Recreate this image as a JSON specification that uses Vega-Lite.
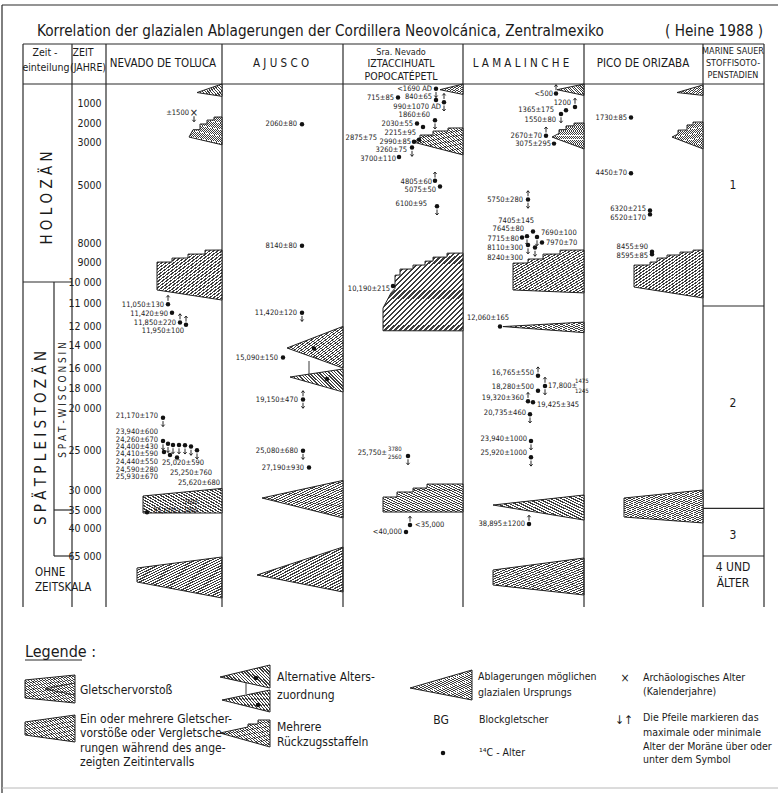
{
"$schema": "https://vega.github.io/schema/vega-lite/v6.json",
"width": 778, "height": 793, "autosize": {"type": "none"}, "padding": 0, "background": "white",
"config": {"view": {"stroke": null}, "font": "Liberation Sans Narrow, DejaVu Sans Condensed, Liberation Sans, sans-serif", "text": {"color": "#1a1a1a"}},
"datasets": {
"lrules": [
{"x":2,"x2":778,"y":5,"y2":5},{"x":2,"x2":2,"y":5,"y2":793},
{"x":23,"x2":764,"y":44,"y2":44},{"x":23,"x2":764,"y":84,"y2":84},
{"x":23,"x2":23,"y":44,"y2":607},{"x":72,"x2":72,"y":44,"y2":607},{"x":106,"x2":106,"y":44,"y2":607},{"x":222,"x2":222,"y":44,"y2":607},{"x":343,"x2":343,"y":44,"y2":607},{"x":463,"x2":463,"y":44,"y2":607},{"x":584,"x2":584,"y":44,"y2":607},{"x":703,"x2":703,"y":44,"y2":607},{"x":764,"x2":764,"y":44,"y2":607},
{"x":25,"x2":82,"y":660,"y2":660}
],
"lwedges": [
{"w":"n0","y":557,"x":222,"xr":222,"d":"s"},{"w":"n0","y":568,"x":137,"xr":222,"d":"s"},{"w":"n0","y":582,"x":137,"xr":222,"d":"s"},{"w":"n0","y":598,"x":222,"xr":222,"d":"s"},
{"w":"a0","y":547,"x":343,"xr":343,"d":"d"},{"w":"a0","y":575,"x":257,"xr":343,"d":"d"},{"w":"a0","y":592,"x":343,"xr":343,"d":"d"},
{"w":"m0","y":558,"x":584,"xr":584,"d":"s"},{"w":"m0","y":570,"x":493,"xr":584,"d":"s"},{"w":"m0","y":585,"x":493,"xr":584,"d":"s"},{"w":"m0","y":595,"x":584,"xr":584,"d":"s"},
{"w":"g1","y":675,"x":75,"xr":75,"d":"s"},{"w":"g1","y":680,"x":25,"xr":75,"d":"s"},{"w":"g1","y":698,"x":25,"xr":75,"d":"s"},{"w":"g1","y":703,"x":75,"xr":75,"d":"s"},
{"w":"g2","y":715,"x":75,"xr":75,"d":"s"},{"w":"g2","y":722,"x":25,"xr":75,"d":"s"},{"w":"g2","y":735,"x":25,"xr":75,"d":"s"},{"w":"g2","y":742,"x":75,"xr":75,"d":"s"},
{"w":"g3","y":665,"x":270,"xr":270,"d":"d"},{"w":"g3","y":677,"x":220,"xr":270,"d":"d"},{"w":"g3","y":688,"x":270,"xr":270,"d":"d"},
{"w":"g4","y":690,"x":270,"xr":270,"d":"d"},{"w":"g4","y":700,"x":222,"xr":270,"d":"d"},{"w":"g4","y":712,"x":270,"xr":270,"d":"d"},
{"w":"g5","y":720,"x":270,"xr":270,"d":"s"},{"w":"g5","y":720.01,"x":258,"xr":270,"d":"s"},{"w":"g5","y":724,"x":258,"xr":270,"d":"s"},{"w":"g5","y":724.01,"x":248,"xr":270,"d":"s"},{"w":"g5","y":727,"x":248,"xr":270,"d":"s"},{"w":"g5","y":733,"x":220,"xr":270,"d":"s"},{"w":"g5","y":747,"x":270,"xr":270,"d":"s"},
{"w":"g6","y":670,"x":472,"xr":472,"d":"d"},{"w":"g6","y":688,"x":410,"xr":472,"d":"d"},{"w":"g6","y":700,"x":472,"xr":472,"d":"d"}
],
"llines": [
{"id":"a","o":1,"x":75,"y":683},{"id":"a","o":2,"x":45,"y":689},{"id":"a","o":3,"x":75,"y":695},
{"id":"b","o":1,"x":246,"y":682},{"id":"b","o":2,"x":246,"y":694},
{"id":"c","o":1,"x":309,"y":361},{"id":"c","o":2,"x":309,"y":374}
],
"lpts": [{"x":443,"y":753},{"x":256,"y":678},{"x":258,"y":705}],
"ltext": [
{"k":"title","x":37,"y":36,"t":"Korrelation der glazialen Ablagerungen der Cordillera Neovolcánica, Zentralmexiko"},
{"k":"title","x":665,"y":36,"t":"( Heine 1988 )"},
{"k":"hm","x":45,"y":53,"t":"Zeit -"},{"k":"hm","x":46,"y":68,"t":"einteilung"},
{"k":"hm","x":83,"y":53,"t":"ZEIT"},{"k":"hm","x":88,"y":68,"t":"(JAHRE)"},
{"k":"head","x":163,"y":64,"t":"NEVADO DE TOLUCA"},
{"k":"head","x":281,"y":64,"t":"A J U S C O"},
{"k":"hs","x":401,"y":52,"t":"Sra. Nevado"},
{"k":"hm","x":401,"y":64,"t":"IZTACCIHUATL"},
{"k":"hm","x":401,"y":76.5,"t":"POPOCATÉPETL"},
{"k":"head","x":521,"y":64,"t":"L A M A L I N C H E"},
{"k":"head","x":643,"y":64,"t":"PICO  DE  ORIZABA"},
{"k":"hs","x":733,"y":51,"t":"MARINE SAUER"},{"k":"hs","x":733,"y":63,"t":"STOFFISOTO-"},{"k":"hs","x":733,"y":75,"t":"PENSTADIEN"},
{"k":"rot","x":47,"y":198,"t":"H  O  L  O  Z  Ä  N"},
{"k":"rot","x":41,"y":438,"t":"S P Ä T P L E I S T O Z Ä N"},
{"k":"rot2","x":63,"y":400,"t":"S P A T  -  W I S C O N S I N"},
{"k":"stage","x":733,"y":185,"t":"1"},{"k":"stage","x":733,"y":403,"t":"2"},{"k":"stage","x":733,"y":535,"t":"3"},
{"k":"stage","x":733,"y":567,"t":"4  UND"},{"k":"stage","x":733,"y":583,"t":"ÄLTER"},
{"k":"lt","x":35,"y":573,"t":"OHNE"},{"k":"lt","x":35,"y":588,"t":"ZEITSKALA"},
{"k":"bg","x":211,"y":133,"t":"BG"},{"k":"bg","x":210,"y":261,"t":"BG"},{"k":"bg","x":572,"y":139,"t":"BG"},
{"k":"legt","x":25,"y":652,"t":"Legende :"},
{"k":"leg","x":80,"y":690,"t":"Gletschervorstoß"},
{"k":"leg","x":80,"y":719,"t":"Ein oder mehrere Gletscher-"},
{"k":"leg","x":80,"y":733,"t":"vorstöße oder Vergletsche-"},
{"k":"leg","x":80,"y":748,"t":"rungen während des ange-"},
{"k":"leg","x":80,"y":762,"t":"zeigten Zeitintervalls"},
{"k":"leg","x":277,"y":677,"t":"Alternative  Alters-"},
{"k":"leg","x":277,"y":695,"t":"zuordnung"},
{"k":"leg","x":277,"y":727,"t":"Mehrere"},
{"k":"leg","x":277,"y":742,"t":"Rückzugsstaffeln"},
{"k":"leg2","x":478,"y":677,"t":"Ablagerungen möglichen"},
{"k":"leg2","x":478,"y":693,"t":"glazialen Ursprungs"},
{"k":"leg2","x":479,"y":720,"t":"Blockgletscher"},
{"k":"leg2","x":479,"y":753,"t":"¹⁴C - Alter"},
{"k":"leg2","x":643,"y":678,"t":"Archäologisches Alter"},
{"k":"leg2","x":643,"y":692,"t":"(Kalenderjahre)"},
{"k":"leg2","x":643,"y":718,"t":"Die Pfeile markieren das"},
{"k":"leg2","x":643,"y":733,"t":"maximale oder minimale"},
{"k":"leg2","x":643,"y":747,"t":"Alter der Moräne über oder"},
{"k":"leg2","x":643,"y":760,"t":"unter dem Symbol"},
{"k":"legc","x":441,"y":720,"t":"BG"},{"k":"legc","x":625,"y":678,"t":"×"},{"k":"legc","x":624,"y":720,"t":"↓↑"}
],
"wedges": [
{"w":"n1","age":0,"x":222,"xr":222,"d":"s"},{"w":"n1","age":450,"x":197,"xr":222,"d":"s"},{"w":"n1","age":650,"x":222,"xr":222,"d":"s"},
{"w":"n2","age":1700,"x":222,"xr":222,"d":"s"},{"w":"n2","age":1705,"x":214,"xr":222,"d":"s"},{"w":"n2","age":1850,"x":214,"xr":222,"d":"s"},{"w":"n2","age":1855,"x":207,"xr":222,"d":"s"},{"w":"n2","age":2050,"x":207,"xr":222,"d":"s"},{"w":"n2","age":2055,"x":200,"xr":222,"d":"s"},{"w":"n2","age":2350,"x":200,"xr":222,"d":"s"},{"w":"n2","age":2355,"x":193,"xr":222,"d":"s"},{"w":"n2","age":2740,"x":189,"xr":222,"d":"s"},{"w":"n2","age":3130,"x":222,"xr":222,"d":"s"},
{"w":"n3","age":8370,"x":222,"xr":222,"d":"s"},{"w":"n3","age":8375,"x":205,"xr":222,"d":"s"},{"w":"n3","age":8580,"x":205,"xr":222,"d":"s"},{"w":"n3","age":8585,"x":188,"xr":222,"d":"s"},{"w":"n3","age":8790,"x":188,"xr":222,"d":"s"},{"w":"n3","age":8795,"x":172,"xr":222,"d":"s"},{"w":"n3","age":9000,"x":172,"xr":222,"d":"s"},{"w":"n3","age":9005,"x":157,"xr":222,"d":"s"},{"w":"n3","age":10380,"x":157,"xr":222,"d":"s"},{"w":"n3","age":10860,"x":222,"xr":222,"d":"s"},
{"w":"n4","age":29800,"x":222,"xr":222,"d":"s"},{"w":"n4","age":31500,"x":143,"xr":222,"d":"s"},{"w":"n4","age":35830,"x":143,"xr":222,"d":"s"},{"w":"n4","age":35840,"x":222,"xr":222,"d":"s"},
{"w":"a1","age":12040,"x":343,"xr":343,"d":"d"},{"w":"a1","age":14260,"x":287,"xr":343,"d":"d"},{"w":"a1","age":16000,"x":343,"xr":343,"d":"d"},
{"w":"a2","age":16100,"x":343,"xr":343,"d":"d"},{"w":"a2","age":16900,"x":290,"xr":343,"d":"d"},{"w":"a2","age":18400,"x":343,"xr":343,"d":"d"},
{"w":"a3","age":28800,"x":343,"xr":343,"d":"d"},{"w":"a3","age":32000,"x":262,"xr":343,"d":"d"},{"w":"a3","age":37200,"x":343,"xr":343,"d":"d"},
{"w":"i1","age":0,"x":463,"xr":463,"d":"s"},{"w":"i1","age":300,"x":440,"xr":463,"d":"s"},{"w":"i1","age":550,"x":463,"xr":463,"d":"s"},
{"w":"i2","age":2260,"x":463,"xr":463,"d":"s"},{"w":"i2","age":2265,"x":448,"xr":463,"d":"s"},{"w":"i2","age":2420,"x":448,"xr":463,"d":"s"},{"w":"i2","age":2425,"x":433,"xr":463,"d":"s"},{"w":"i2","age":2630,"x":433,"xr":463,"d":"s"},{"w":"i2","age":2635,"x":420,"xr":463,"d":"s"},{"w":"i2","age":2790,"x":420,"xr":463,"d":"s"},{"w":"i2","age":3000,"x":413,"xr":463,"d":"s"},{"w":"i2","age":3600,"x":463,"xr":463,"d":"s"},
{"w":"i3","age":8530,"x":463,"xr":463,"d":"s"},{"w":"i3","age":8535,"x":447,"xr":463,"d":"s"},{"w":"i3","age":8740,"x":447,"xr":463,"d":"s"},{"w":"i3","age":8745,"x":433,"xr":463,"d":"s"},{"w":"i3","age":8950,"x":433,"xr":463,"d":"s"},{"w":"i3","age":8955,"x":425,"xr":463,"d":"s"},{"w":"i3","age":9150,"x":425,"xr":463,"d":"s"},{"w":"i3","age":9155,"x":413,"xr":463,"d":"s"},{"w":"i3","age":9350,"x":413,"xr":463,"d":"s"},{"w":"i3","age":9355,"x":400,"xr":463,"d":"s"},{"w":"i3","age":9650,"x":400,"xr":463,"d":"s"},{"w":"i3","age":9660,"x":395,"xr":463,"d":"s"},{"w":"i3","age":10300,"x":395,"xr":463,"d":"s"},{"w":"i3","age":10520,"x":391,"xr":463,"d":"s"},{"w":"i3","age":11220,"x":383,"xr":463,"d":"s"},{"w":"i3","age":12500,"x":383,"xr":463,"d":"s"},{"w":"i3","age":12510,"x":463,"xr":463,"d":"s"},
{"w":"i4","age":29250,"x":463,"xr":463,"d":"s"},{"w":"i4","age":29260,"x":427,"xr":463,"d":"s"},{"w":"i4","age":29750,"x":427,"xr":463,"d":"s"},{"w":"i4","age":29760,"x":413,"xr":463,"d":"s"},{"w":"i4","age":30500,"x":413,"xr":463,"d":"s"},{"w":"i4","age":30510,"x":397,"xr":463,"d":"s"},{"w":"i4","age":31750,"x":397,"xr":463,"d":"s"},{"w":"i4","age":31760,"x":383,"xr":463,"d":"s"},{"w":"i4","age":35560,"x":383,"xr":463,"d":"s"},{"w":"i4","age":35570,"x":463,"xr":463,"d":"s"},
{"w":"m1","age":0,"x":584,"xr":584,"d":"s"},{"w":"m1","age":300,"x":557,"xr":584,"d":"s"},{"w":"m1","age":600,"x":584,"xr":584,"d":"s"},
{"w":"m2","age":2000,"x":584,"xr":584,"d":"s"},{"w":"m2","age":2005,"x":574,"xr":584,"d":"s"},{"w":"m2","age":2150,"x":574,"xr":584,"d":"s"},{"w":"m2","age":2155,"x":566,"xr":584,"d":"s"},{"w":"m2","age":2350,"x":566,"xr":584,"d":"s"},{"w":"m2","age":2355,"x":559,"xr":584,"d":"s"},{"w":"m2","age":2550,"x":559,"xr":584,"d":"s"},{"w":"m2","age":2740,"x":552,"xr":584,"d":"s"},{"w":"m2","age":3320,"x":584,"xr":584,"d":"s"},
{"w":"m3","age":8370,"x":584,"xr":584,"d":"s"},{"w":"m3","age":8375,"x":560,"xr":584,"d":"s"},{"w":"m3","age":8580,"x":560,"xr":584,"d":"s"},{"w":"m3","age":8585,"x":543,"xr":584,"d":"s"},{"w":"m3","age":8840,"x":543,"xr":584,"d":"s"},{"w":"m3","age":8845,"x":528,"xr":584,"d":"s"},{"w":"m3","age":9050,"x":528,"xr":584,"d":"s"},{"w":"m3","age":9055,"x":513,"xr":584,"d":"s"},{"w":"m3","age":10380,"x":513,"xr":584,"d":"s"},{"w":"m3","age":10520,"x":584,"xr":584,"d":"s"},
{"w":"m4","age":11830,"x":584,"xr":584,"d":"s"},{"w":"m4","age":12060,"x":503,"xr":584,"d":"s"},{"w":"m4","age":12700,"x":584,"xr":584,"d":"s"},
{"w":"m5","age":31250,"x":584,"xr":584,"d":"s"},{"w":"m5","age":33750,"x":493,"xr":584,"d":"s"},{"w":"m5","age":37800,"x":584,"xr":584,"d":"s"},
{"w":"p1","age":50,"x":703,"xr":703,"d":"s"},{"w":"p1","age":450,"x":677,"xr":703,"d":"s"},{"w":"p1","age":600,"x":703,"xr":703,"d":"s"},
{"w":"p2","age":1950,"x":703,"xr":703,"d":"s"},{"w":"p2","age":1955,"x":693,"xr":703,"d":"s"},{"w":"p2","age":2100,"x":693,"xr":703,"d":"s"},{"w":"p2","age":2105,"x":687,"xr":703,"d":"s"},{"w":"p2","age":2370,"x":687,"xr":703,"d":"s"},{"w":"p2","age":2375,"x":678,"xr":703,"d":"s"},{"w":"p2","age":2580,"x":678,"xr":703,"d":"s"},{"w":"p2","age":2740,"x":672,"xr":703,"d":"s"},{"w":"p2","age":3320,"x":703,"xr":703,"d":"s"},
{"w":"p3","age":8370,"x":703,"xr":703,"d":"s"},{"w":"p3","age":8375,"x":693,"xr":703,"d":"s"},{"w":"p3","age":8475,"x":693,"xr":703,"d":"s"},{"w":"p3","age":8480,"x":680,"xr":703,"d":"s"},{"w":"p3","age":8630,"x":680,"xr":703,"d":"s"},{"w":"p3","age":8635,"x":667,"xr":703,"d":"s"},{"w":"p3","age":8790,"x":667,"xr":703,"d":"s"},{"w":"p3","age":8795,"x":657,"xr":703,"d":"s"},{"w":"p3","age":9000,"x":657,"xr":703,"d":"s"},{"w":"p3","age":9005,"x":650,"xr":703,"d":"s"},{"w":"p3","age":9150,"x":650,"xr":703,"d":"s"},{"w":"p3","age":9155,"x":634,"xr":703,"d":"s"},{"w":"p3","age":10240,"x":634,"xr":703,"d":"s"},{"w":"p3","age":10760,"x":703,"xr":703,"d":"s"},
{"w":"p4","age":30000,"x":703,"xr":703,"d":"s"},{"w":"p4","age":32000,"x":624,"xr":703,"d":"s"},{"w":"p4","age":36950,"x":624,"xr":703,"d":"s"},{"w":"p4","age":38600,"x":703,"xr":703,"d":"s"}
],
"arules": [
{"x":23,"x2":72,"age":10000,"age2":10000},{"x":54,"x2":54,"age":10000,"age2":65000},{"x":54,"x2":72,"age":35000,"age2":35000},{"x":54,"x2":72,"age":65000,"age2":65000},
{"x":703,"x2":764,"age":11130,"age2":11130},{"x":703,"x2":764,"age":34600,"age2":34600},{"x":703,"x2":764,"age":65000,"age2":65000}
],
"dots": [
{"x":194,"age":1500,"a":"d","s":"x"},
{"x":168,"age":11050,"a":"u"},{"x":172,"age":11420,"a":"n"},{"x":180,"age":11850,"a":"u"},{"x":186,"age":11950,"a":"u"},
{"x":163,"age":21170,"a":"d"},
{"x":163,"age":23940,"a":"d"},{"x":168,"age":24260,"a":"d"},{"x":173,"age":24400,"a":"d"},{"x":179,"age":24410,"a":"d"},{"x":185,"age":24440,"a":"d"},{"x":191,"age":24590,"a":"d"},{"x":197,"age":25020,"a":"d"},
{"x":164,"age":25250,"a":"n"},{"x":170,"age":25620,"a":"n"},{"x":177,"age":25930,"a":"n"},{"x":147,"age":35600,"a":"n"},
{"x":302,"age":2060,"a":"n"},{"x":302,"age":8140,"a":"n"},{"x":302,"age":11420,"a":"d"},{"x":283,"age":15090,"a":"n"},{"x":314,"age":14300,"a":"n"},{"x":327,"age":17100,"a":"n"},
{"x":303,"age":19150,"a":"b"},{"x":303,"age":25080,"a":"d"},{"x":309,"age":27190,"a":"n"},
{"x":436,"age":250,"a":"d"},{"x":398,"age":715,"a":"n"},{"x":436,"age":840,"a":"n"},{"x":444,"age":960,"a":"b"},{"x":435,"age":1860,"a":"d"},{"x":417,"age":2030,"a":"n"},{"x":423,"age":2215,"a":"n"},{"x":419,"age":2875,"a":"n"},{"x":414,"age":2990,"a":"n"},{"x":412,"age":3260,"a":"d"},{"x":399,"age":3700,"a":"n"},{"x":435,"age":4805,"a":"u"},{"x":440,"age":5075,"a":"n"},{"x":437,"age":6100,"a":"d"},{"x":393,"age":10190,"a":"n"},{"x":408,"age":25750,"a":"d"},{"x":410,"age":39170,"a":"u"},{"x":406,"age":43600,"a":"n"},
{"x":556,"age":500,"a":"u"},{"x":575,"age":1200,"a":"u"},{"x":566,"age":1365,"a":"n"},{"x":561,"age":1550,"a":"d"},{"x":546,"age":2670,"a":"u"},{"x":554,"age":3075,"a":"n"},{"x":528,"age":5750,"a":"b"},
{"x":533,"age":7405,"a":"n"},{"x":527,"age":7645,"a":"d"},{"x":537,"age":7690,"a":"d"},{"x":522,"age":7715,"a":"n"},{"x":542,"age":7970,"a":"n"},{"x":528,"age":8110,"a":"d"},{"x":535,"age":8240,"a":"d"},
{"x":500,"age":12060,"a":"n"},{"x":538,"age":16765,"a":"u"},{"x":545,"age":17800,"a":"b"},{"x":538,"age":18280,"a":"n"},{"x":528,"age":19320,"a":"u"},{"x":533,"age":19425,"a":"n"},{"x":530,"age":20735,"a":"d"},{"x":531,"age":23940,"a":"d"},{"x":531,"age":25920,"a":"d"},{"x":529,"age":38895,"a":"u"},
{"x":631,"age":1730,"a":"n"},{"x":631,"age":4450,"a":"n"},{"x":650,"age":6320,"a":"n"},{"x":650,"age":6520,"a":"n"},{"x":652,"age":8455,"a":"n"},{"x":652,"age":8595,"a":"n"}
],
"labels": [
{"t":"±1500","x":189,"age":1500,"side":"L"},
{"t":"11,050±130","x":164,"age":11100,"side":"L"},{"t":"11,420±90","x":168,"age":11480,"side":"L"},{"t":"11,850±220","x":176,"age":11860,"side":"L"},{"t":"11,950±100","x":184,"age":12500,"side":"L"},
{"t":"21,170±170","x":158,"age":20900,"side":"L"},
{"t":"23,940±600","x":158,"age":22860,"side":"L"},{"t":"24,260±670","x":158,"age":23750,"side":"L"},{"t":"24,400±430","x":158,"age":24640,"side":"L"},{"t":"24,410±590","x":158,"age":25560,"side":"L"},{"t":"24,440±550","x":158,"age":26500,"side":"L"},{"t":"24,590±280","x":158,"age":27440,"side":"L"},{"t":"25,930±670","x":158,"age":28375,"side":"L"},
{"t":"25,020±590","x":162,"age":26625,"side":"R"},{"t":"25,250±760","x":170,"age":27875,"side":"R"},{"t":"25,620±680","x":178,"age":29125,"side":"R"},
{"t":"35,600±","x":153,"age":35200,"side":"R"},{"t":"2600","x":184,"age":33000,"side":"F"},{"t":"1800","x":184,"age":35000,"side":"F"},
{"t":"2060±80","x":297,"age":2060,"side":"L"},{"t":"8140±80","x":297,"age":8140,"side":"L"},{"t":"11,420±120","x":297,"age":11420,"side":"L"},{"t":"15,090±150","x":278,"age":15090,"side":"L"},{"t":"19,150±470","x":298,"age":19150,"side":"L"},{"t":"25,080±680","x":298,"age":25080,"side":"L"},{"t":"27,190±930","x":304,"age":27190,"side":"L"},
{"t":"<1690 AD","x":432,"age":250,"side":"L"},{"t":"715±85","x":394,"age":715,"side":"L"},{"t":"840±65","x":432,"age":700,"side":"L"},{"t":"990±1070 AD","x":441,"age":1200,"side":"L"},{"t":"1860±60","x":430,"age":1600,"side":"L"},{"t":"2030±55","x":413,"age":2030,"side":"L"},{"t":"2215±95","x":416,"age":2500,"side":"L"},{"t":"2875±75","x":377,"age":2800,"side":"L"},{"t":"2990±85","x":411,"age":3000,"side":"L"},{"t":"3260±75","x":407,"age":3370,"side":"L"},{"t":"3700±110","x":396,"age":3790,"side":"L"},{"t":"4805±60","x":432,"age":4860,"side":"L"},{"t":"5075±50","x":436,"age":5260,"side":"L"},{"t":"6100±95","x":427,"age":5980,"side":"L"},{"t":"10,190±215","x":390,"age":10330,"side":"L"},
{"t":"25,750±","x":387,"age":25380,"side":"L"},{"t":"3780","x":388,"age":24900,"side":"F"},{"t":"2560","x":388,"age":25900,"side":"F"},
{"t":"<35,000","x":415,"age":39170,"side":"R"},{"t":"<40,000","x":402,"age":43600,"side":"L"},
{"t":"<500","x":553,"age":500,"side":"L"},{"t":"1200","x":571,"age":1000,"side":"L"},{"t":"1365±175","x":554,"age":1350,"side":"L"},{"t":"1550±80","x":556,"age":1850,"side":"L"},{"t":"2670±70","x":542,"age":2670,"side":"L"},{"t":"3075±295","x":551,"age":3075,"side":"L"},{"t":"5750±280","x":523,"age":5750,"side":"L"},
{"t":"7405±145","x":534,"age":6860,"side":"L"},{"t":"7645±80","x":524,"age":7275,"side":"L"},{"t":"7690±100","x":541,"age":7482,"side":"R"},{"t":"7715±80","x":519,"age":7792,"side":"L"},{"t":"7970±70","x":546,"age":8000,"side":"R"},{"t":"8110±300","x":523,"age":8260,"side":"L"},{"t":"8240±300","x":523,"age":8790,"side":"L"},
{"t":"12,060±165","x":467,"age":11650,"side":"R"},{"t":"16,765±550","x":534,"age":16500,"side":"L"},{"t":"18,280±500","x":534,"age":17900,"side":"L"},
{"t":"17,800±","x":548,"age":17800,"side":"R"},{"t":"1475","x":575,"age":17300,"side":"F"},{"t":"1245","x":575,"age":18300,"side":"F"},
{"t":"19,320±360","x":524,"age":19000,"side":"L"},{"t":"19,425±345","x":537,"age":19700,"side":"R"},{"t":"20,735±460","x":526,"age":20600,"side":"L"},{"t":"23,940±1000","x":527,"age":23700,"side":"L"},{"t":"25,920±1000","x":527,"age":25380,"side":"L"},{"t":"38,895±1200","x":525,"age":38895,"side":"L"},
{"t":"1730±85","x":627,"age":1730,"side":"L"},{"t":"4450±70","x":627,"age":4450,"side":"L"},{"t":"6320±215","x":646,"age":6250,"side":"L"},{"t":"6520±170","x":646,"age":6720,"side":"L"},{"t":"8455±90","x":648,"age":8200,"side":"L"},{"t":"8595±85","x":648,"age":8690,"side":"L"}
]
},
"layer": [
{
"encoding": {
"x": {"field": "x", "type": "quantitative", "scale": {"domain": [0, 778], "nice": false, "zero": false}, "axis": null},
"y": {"field": "y", "type": "quantitative", "scale": {"domain": [0, 793], "range": [0, 793], "nice": false, "zero": false}, "axis": null}
},
"layer": [
{"data": {"name": "lwedges"}, "mark": {"type": "area", "orient": "horizontal", "stroke": "#222", "strokeWidth": 1, "fill": {"gradient":"linear","x1":0,"y1":0,"x2":1,"y2":1,"stops":[
{"offset":0,"color":"#3c3c3c"},{"offset":0.014,"color":"#3c3c3c"},{"offset":0.014,"color":"#fff"},{"offset":0.03125,"color":"#fff"},
{"offset":0.03125,"color":"#3c3c3c"},{"offset":0.04525,"color":"#3c3c3c"},{"offset":0.04525,"color":"#fff"},{"offset":0.0625,"color":"#fff"},
{"offset":0.0625,"color":"#3c3c3c"},{"offset":0.0765,"color":"#3c3c3c"},{"offset":0.0765,"color":"#fff"},{"offset":0.09375,"color":"#fff"},
{"offset":0.09375,"color":"#3c3c3c"},{"offset":0.10775,"color":"#3c3c3c"},{"offset":0.10775,"color":"#fff"},{"offset":0.125,"color":"#fff"},
{"offset":0.125,"color":"#3c3c3c"},{"offset":0.139,"color":"#3c3c3c"},{"offset":0.139,"color":"#fff"},{"offset":0.15625,"color":"#fff"},
{"offset":0.15625,"color":"#3c3c3c"},{"offset":0.17025,"color":"#3c3c3c"},{"offset":0.17025,"color":"#fff"},{"offset":0.1875,"color":"#fff"},
{"offset":0.1875,"color":"#3c3c3c"},{"offset":0.2015,"color":"#3c3c3c"},{"offset":0.2015,"color":"#fff"},{"offset":0.21875,"color":"#fff"},
{"offset":0.21875,"color":"#3c3c3c"},{"offset":0.23275,"color":"#3c3c3c"},{"offset":0.23275,"color":"#fff"},{"offset":0.25,"color":"#fff"},
{"offset":0.25,"color":"#3c3c3c"},{"offset":0.264,"color":"#3c3c3c"},{"offset":0.264,"color":"#fff"},{"offset":0.28125,"color":"#fff"},
{"offset":0.28125,"color":"#3c3c3c"},{"offset":0.29525,"color":"#3c3c3c"},{"offset":0.29525,"color":"#fff"},{"offset":0.3125,"color":"#fff"},
{"offset":0.3125,"color":"#3c3c3c"},{"offset":0.3265,"color":"#3c3c3c"},{"offset":0.3265,"color":"#fff"},{"offset":0.34375,"color":"#fff"},
{"offset":0.34375,"color":"#3c3c3c"},{"offset":0.35775,"color":"#3c3c3c"},{"offset":0.35775,"color":"#fff"},{"offset":0.375,"color":"#fff"},
{"offset":0.375,"color":"#3c3c3c"},{"offset":0.389,"color":"#3c3c3c"},{"offset":0.389,"color":"#fff"},{"offset":0.40625,"color":"#fff"},
{"offset":0.40625,"color":"#3c3c3c"},{"offset":0.42025,"color":"#3c3c3c"},{"offset":0.42025,"color":"#fff"},{"offset":0.4375,"color":"#fff"},
{"offset":0.4375,"color":"#3c3c3c"},{"offset":0.4515,"color":"#3c3c3c"},{"offset":0.4515,"color":"#fff"},{"offset":0.46875,"color":"#fff"},
{"offset":0.46875,"color":"#3c3c3c"},{"offset":0.48275,"color":"#3c3c3c"},{"offset":0.48275,"color":"#fff"},{"offset":0.5,"color":"#fff"},
{"offset":0.5,"color":"#3c3c3c"},{"offset":0.514,"color":"#3c3c3c"},{"offset":0.514,"color":"#fff"},{"offset":0.53125,"color":"#fff"},
{"offset":0.53125,"color":"#3c3c3c"},{"offset":0.54525,"color":"#3c3c3c"},{"offset":0.54525,"color":"#fff"},{"offset":0.5625,"color":"#fff"},
{"offset":0.5625,"color":"#3c3c3c"},{"offset":0.5765,"color":"#3c3c3c"},{"offset":0.5765,"color":"#fff"},{"offset":0.59375,"color":"#fff"},
{"offset":0.59375,"color":"#3c3c3c"},{"offset":0.60775,"color":"#3c3c3c"},{"offset":0.60775,"color":"#fff"},{"offset":0.625,"color":"#fff"},
{"offset":0.625,"color":"#3c3c3c"},{"offset":0.639,"color":"#3c3c3c"},{"offset":0.639,"color":"#fff"},{"offset":0.65625,"color":"#fff"},
{"offset":0.65625,"color":"#3c3c3c"},{"offset":0.67025,"color":"#3c3c3c"},{"offset":0.67025,"color":"#fff"},{"offset":0.6875,"color":"#fff"},
{"offset":0.6875,"color":"#3c3c3c"},{"offset":0.7015,"color":"#3c3c3c"},{"offset":0.7015,"color":"#fff"},{"offset":0.71875,"color":"#fff"},
{"offset":0.71875,"color":"#3c3c3c"},{"offset":0.73275,"color":"#3c3c3c"},{"offset":0.73275,"color":"#fff"},{"offset":0.75,"color":"#fff"},
{"offset":0.75,"color":"#3c3c3c"},{"offset":0.764,"color":"#3c3c3c"},{"offset":0.764,"color":"#fff"},{"offset":0.78125,"color":"#fff"},
{"offset":0.78125,"color":"#3c3c3c"},{"offset":0.79525,"color":"#3c3c3c"},{"offset":0.79525,"color":"#fff"},{"offset":0.8125,"color":"#fff"},
{"offset":0.8125,"color":"#3c3c3c"},{"offset":0.8265,"color":"#3c3c3c"},{"offset":0.8265,"color":"#fff"},{"offset":0.84375,"color":"#fff"},
{"offset":0.84375,"color":"#3c3c3c"},{"offset":0.85775,"color":"#3c3c3c"},{"offset":0.85775,"color":"#fff"},{"offset":0.875,"color":"#fff"},
{"offset":0.875,"color":"#3c3c3c"},{"offset":0.889,"color":"#3c3c3c"},{"offset":0.889,"color":"#fff"},{"offset":0.90625,"color":"#fff"},
{"offset":0.90625,"color":"#3c3c3c"},{"offset":0.92025,"color":"#3c3c3c"},{"offset":0.92025,"color":"#fff"},{"offset":0.9375,"color":"#fff"},
{"offset":0.9375,"color":"#3c3c3c"},{"offset":0.9515,"color":"#3c3c3c"},{"offset":0.9515,"color":"#fff"},{"offset":0.96875,"color":"#fff"},
{"offset":0.96875,"color":"#3c3c3c"},{"offset":0.98275,"color":"#3c3c3c"},{"offset":0.98275,"color":"#fff"},{"offset":1,"color":"#fff"}
]}},
"encoding": {"x": {"field": "x", "type": "quantitative", "stack": null}, "x2": {"field": "xr"}, "detail": {"field": "w"},
"strokeDash": {"field": "d", "type": "nominal", "scale": {"domain": ["s", "d"], "range": [[1, 0], [4, 2.5]]}, "legend": null}}},
{"data": {"name": "lrules"}, "mark": {"type": "rule", "color": "#2a2a2a", "strokeWidth": 1.2}, "encoding": {"x2": {"field": "x2"}, "y2": {"field": "y2"}}},
{"data": {"values": [{"x": 2, "x2": 778, "y": 788, "y2": 788}]}, "mark": {"type": "rule", "color": "#b8b8b8", "strokeWidth": 1}, "encoding": {"x2": {"field": "x2"}, "y2": {"field": "y2"}}},
{"data": {"name": "llines"}, "mark": {"type": "line", "color": "#222", "strokeWidth": 0.9}, "encoding": {"detail": {"field": "id"}, "order": {"field": "o"}}},
{"data": {"name": "lpts"}, "mark": {"type": "point", "filled": true, "color": "#111", "size": 20, "opacity": 1}, "encoding": {}},
{"data": {"name": "ltext"}, "transform": [{"filter": "datum.k === 'title'"}], "mark": {"type": "text", "fontSize": 15.2, "align": "left", "baseline": "alphabetic"}, "encoding": {"text": {"field": "t"}}},
{"data": {"name": "ltext"}, "transform": [{"filter": "datum.k === 'head'"}], "mark": {"type": "text", "fontSize": 11.5, "align": "center", "baseline": "middle"}, "encoding": {"text": {"field": "t"}}},
{"data": {"name": "ltext"}, "transform": [{"filter": "datum.k === 'hm'"}], "mark": {"type": "text", "fontSize": 10.5, "align": "center", "baseline": "middle"}, "encoding": {"text": {"field": "t"}}},
{"data": {"name": "ltext"}, "transform": [{"filter": "datum.k === 'hs'"}], "mark": {"type": "text", "fontSize": 9, "align": "center", "baseline": "middle"}, "encoding": {"text": {"field": "t"}}},
{"data": {"name": "ltext"}, "transform": [{"filter": "datum.k === 'rot'"}], "mark": {"type": "text", "fontSize": 15, "angle": 270, "align": "center", "baseline": "middle"}, "encoding": {"text": {"field": "t"}}},
{"data": {"name": "ltext"}, "transform": [{"filter": "datum.k === 'rot2'"}], "mark": {"type": "text", "fontSize": 10, "angle": 270, "align": "center", "baseline": "middle"}, "encoding": {"text": {"field": "t"}}},
{"data": {"name": "ltext"}, "transform": [{"filter": "datum.k === 'stage'"}], "mark": {"type": "text", "fontSize": 12, "align": "center", "baseline": "middle"}, "encoding": {"text": {"field": "t"}}},
{"data": {"name": "ltext"}, "transform": [{"filter": "datum.k === 'lt'"}], "mark": {"type": "text", "fontSize": 11.5, "align": "left", "baseline": "middle"}, "encoding": {"text": {"field": "t"}}},
{"data": {"name": "ltext"}, "transform": [{"filter": "datum.k === 'bg'"}], "mark": {"type": "text", "fontSize": 10, "align": "center", "baseline": "middle", "fontStyle": "italic"}, "encoding": {"text": {"field": "t"}}},
{"data": {"name": "ltext"}, "transform": [{"filter": "datum.k === 'legt'"}], "mark": {"type": "text", "fontSize": 16, "align": "left", "baseline": "middle"}, "encoding": {"text": {"field": "t"}}},
{"data": {"name": "ltext"}, "transform": [{"filter": "datum.k === 'leg'"}], "mark": {"type": "text", "fontSize": 12, "align": "left", "baseline": "middle"}, "encoding": {"text": {"field": "t"}}},
{"data": {"name": "ltext"}, "transform": [{"filter": "datum.k === 'leg2'"}], "mark": {"type": "text", "fontSize": 10.5, "align": "left", "baseline": "middle"}, "encoding": {"text": {"field": "t"}}},
{"data": {"name": "ltext"}, "transform": [{"filter": "datum.k === 'legc'"}], "mark": {"type": "text", "fontSize": 12, "align": "center", "baseline": "middle"}, "encoding": {"text": {"field": "t"}}}
]
},
{
"encoding": {
"x": {"field": "x", "type": "quantitative", "scale": {"domain": [0, 778], "nice": false, "zero": false}, "axis": null},
"y": {"field": "age", "type": "quantitative",
"scale": {"domain": [0,1000,2000,3000,5000,8000,9000,10000,11000,12000,14000,16000,18000,20000,25000,30000,35000,40000,65000],
"range": [84,103,123,142,185,243,262,282,303,326,345,368,388,408,450,490,510,528,556], "nice": false, "zero": false},
"axis": {"orient": "left", "offset": -106, "values": [1000,2000,3000,5000,8000,9000,10000,11000,12000,14000,16000,18000,20000,25000,30000,35000,40000,65000],
"labelExpr": "datum.value >= 10000 ? floor(datum.value/1000) + ' 000' : '' + datum.value",
"domain": false, "ticks": false, "tickSize": 0, "grid": false, "labelPadding": 5, "labelFontSize": 10.5, "labelColor": "#1a1a1a", "labelOverlap": false, "labelFlush": false, "title": null}}
},
"layer": [
{"data": {"name": "wedges"}, "mark": {"type": "area", "orient": "horizontal", "stroke": "#222", "strokeWidth": 1, "fill": {"gradient":"linear","x1":0,"y1":0,"x2":1,"y2":1,"stops":[
{"offset":0,"color":"#3c3c3c"},{"offset":0.014,"color":"#3c3c3c"},{"offset":0.014,"color":"#fff"},{"offset":0.03125,"color":"#fff"},
{"offset":0.03125,"color":"#3c3c3c"},{"offset":0.04525,"color":"#3c3c3c"},{"offset":0.04525,"color":"#fff"},{"offset":0.0625,"color":"#fff"},
{"offset":0.0625,"color":"#3c3c3c"},{"offset":0.0765,"color":"#3c3c3c"},{"offset":0.0765,"color":"#fff"},{"offset":0.09375,"color":"#fff"},
{"offset":0.09375,"color":"#3c3c3c"},{"offset":0.10775,"color":"#3c3c3c"},{"offset":0.10775,"color":"#fff"},{"offset":0.125,"color":"#fff"},
{"offset":0.125,"color":"#3c3c3c"},{"offset":0.139,"color":"#3c3c3c"},{"offset":0.139,"color":"#fff"},{"offset":0.15625,"color":"#fff"},
{"offset":0.15625,"color":"#3c3c3c"},{"offset":0.17025,"color":"#3c3c3c"},{"offset":0.17025,"color":"#fff"},{"offset":0.1875,"color":"#fff"},
{"offset":0.1875,"color":"#3c3c3c"},{"offset":0.2015,"color":"#3c3c3c"},{"offset":0.2015,"color":"#fff"},{"offset":0.21875,"color":"#fff"},
{"offset":0.21875,"color":"#3c3c3c"},{"offset":0.23275,"color":"#3c3c3c"},{"offset":0.23275,"color":"#fff"},{"offset":0.25,"color":"#fff"},
{"offset":0.25,"color":"#3c3c3c"},{"offset":0.264,"color":"#3c3c3c"},{"offset":0.264,"color":"#fff"},{"offset":0.28125,"color":"#fff"},
{"offset":0.28125,"color":"#3c3c3c"},{"offset":0.29525,"color":"#3c3c3c"},{"offset":0.29525,"color":"#fff"},{"offset":0.3125,"color":"#fff"},
{"offset":0.3125,"color":"#3c3c3c"},{"offset":0.3265,"color":"#3c3c3c"},{"offset":0.3265,"color":"#fff"},{"offset":0.34375,"color":"#fff"},
{"offset":0.34375,"color":"#3c3c3c"},{"offset":0.35775,"color":"#3c3c3c"},{"offset":0.35775,"color":"#fff"},{"offset":0.375,"color":"#fff"},
{"offset":0.375,"color":"#3c3c3c"},{"offset":0.389,"color":"#3c3c3c"},{"offset":0.389,"color":"#fff"},{"offset":0.40625,"color":"#fff"},
{"offset":0.40625,"color":"#3c3c3c"},{"offset":0.42025,"color":"#3c3c3c"},{"offset":0.42025,"color":"#fff"},{"offset":0.4375,"color":"#fff"},
{"offset":0.4375,"color":"#3c3c3c"},{"offset":0.4515,"color":"#3c3c3c"},{"offset":0.4515,"color":"#fff"},{"offset":0.46875,"color":"#fff"},
{"offset":0.46875,"color":"#3c3c3c"},{"offset":0.48275,"color":"#3c3c3c"},{"offset":0.48275,"color":"#fff"},{"offset":0.5,"color":"#fff"},
{"offset":0.5,"color":"#3c3c3c"},{"offset":0.514,"color":"#3c3c3c"},{"offset":0.514,"color":"#fff"},{"offset":0.53125,"color":"#fff"},
{"offset":0.53125,"color":"#3c3c3c"},{"offset":0.54525,"color":"#3c3c3c"},{"offset":0.54525,"color":"#fff"},{"offset":0.5625,"color":"#fff"},
{"offset":0.5625,"color":"#3c3c3c"},{"offset":0.5765,"color":"#3c3c3c"},{"offset":0.5765,"color":"#fff"},{"offset":0.59375,"color":"#fff"},
{"offset":0.59375,"color":"#3c3c3c"},{"offset":0.60775,"color":"#3c3c3c"},{"offset":0.60775,"color":"#fff"},{"offset":0.625,"color":"#fff"},
{"offset":0.625,"color":"#3c3c3c"},{"offset":0.639,"color":"#3c3c3c"},{"offset":0.639,"color":"#fff"},{"offset":0.65625,"color":"#fff"},
{"offset":0.65625,"color":"#3c3c3c"},{"offset":0.67025,"color":"#3c3c3c"},{"offset":0.67025,"color":"#fff"},{"offset":0.6875,"color":"#fff"},
{"offset":0.6875,"color":"#3c3c3c"},{"offset":0.7015,"color":"#3c3c3c"},{"offset":0.7015,"color":"#fff"},{"offset":0.71875,"color":"#fff"},
{"offset":0.71875,"color":"#3c3c3c"},{"offset":0.73275,"color":"#3c3c3c"},{"offset":0.73275,"color":"#fff"},{"offset":0.75,"color":"#fff"},
{"offset":0.75,"color":"#3c3c3c"},{"offset":0.764,"color":"#3c3c3c"},{"offset":0.764,"color":"#fff"},{"offset":0.78125,"color":"#fff"},
{"offset":0.78125,"color":"#3c3c3c"},{"offset":0.79525,"color":"#3c3c3c"},{"offset":0.79525,"color":"#fff"},{"offset":0.8125,"color":"#fff"},
{"offset":0.8125,"color":"#3c3c3c"},{"offset":0.8265,"color":"#3c3c3c"},{"offset":0.8265,"color":"#fff"},{"offset":0.84375,"color":"#fff"},
{"offset":0.84375,"color":"#3c3c3c"},{"offset":0.85775,"color":"#3c3c3c"},{"offset":0.85775,"color":"#fff"},{"offset":0.875,"color":"#fff"},
{"offset":0.875,"color":"#3c3c3c"},{"offset":0.889,"color":"#3c3c3c"},{"offset":0.889,"color":"#fff"},{"offset":0.90625,"color":"#fff"},
{"offset":0.90625,"color":"#3c3c3c"},{"offset":0.92025,"color":"#3c3c3c"},{"offset":0.92025,"color":"#fff"},{"offset":0.9375,"color":"#fff"},
{"offset":0.9375,"color":"#3c3c3c"},{"offset":0.9515,"color":"#3c3c3c"},{"offset":0.9515,"color":"#fff"},{"offset":0.96875,"color":"#fff"},
{"offset":0.96875,"color":"#3c3c3c"},{"offset":0.98275,"color":"#3c3c3c"},{"offset":0.98275,"color":"#fff"},{"offset":1,"color":"#fff"}
]}},
"encoding": {"x": {"field": "x", "type": "quantitative", "stack": null}, "x2": {"field": "xr"}, "detail": {"field": "w"},
"strokeDash": {"field": "d", "type": "nominal", "scale": {"domain": ["s", "d"], "range": [[1, 0], [4, 2.5]]}, "legend": null}}},
{"data": {"name": "arules"}, "mark": {"type": "rule", "color": "#2a2a2a", "strokeWidth": 1.2}, "encoding": {"x2": {"field": "x2"}, "y2": {"field": "age2"}}},
{"data": {"name": "dots"}, "transform": [{"filter": "datum.s !== 'x'"}], "mark": {"type": "point", "filled": true, "color": "#111", "size": 20, "opacity": 1}, "encoding": {}},
{"data": {"name": "dots"}, "transform": [{"filter": "datum.s === 'x'"}], "mark": {"type": "text", "text": "×", "fontSize": 11, "align": "center", "baseline": "middle"}, "encoding": {}},
{"data": {"name": "dots"}, "transform": [{"filter": "datum.a === 'u' || datum.a === 'b'"}], "mark": {"type": "point", "filled": false, "color": "#111", "strokeWidth": 0.9, "size": 30, "yOffset": -6, "opacity": 1, "shape": "M0,1L0,-1M-0.6,-0.3L0,-1L0.6,-0.3"}, "encoding": {}},
{"data": {"name": "dots"}, "transform": [{"filter": "datum.a === 'd' || datum.a === 'b'"}], "mark": {"type": "point", "filled": false, "color": "#111", "strokeWidth": 0.9, "size": 30, "yOffset": 6, "opacity": 1, "shape": "M0,-1L0,1M-0.6,0.3L0,1L0.6,0.3"}, "encoding": {}},
{"data": {"name": "labels"}, "transform": [{"filter": "datum.side === 'L'"}], "mark": {"type": "text", "fontSize": 7.5, "align": "right", "baseline": "middle"}, "encoding": {"text": {"field": "t"}}},
{"data": {"name": "labels"}, "transform": [{"filter": "datum.side === 'R'"}], "mark": {"type": "text", "fontSize": 7.5, "align": "left", "baseline": "middle"}, "encoding": {"text": {"field": "t"}}},
{"data": {"name": "labels"}, "transform": [{"filter": "datum.side === 'F'"}], "mark": {"type": "text", "fontSize": 6, "align": "left", "baseline": "middle"}, "encoding": {"text": {"field": "t"}}}
]
}
],
"resolve": {"scale": {"y": "independent"}}
}
